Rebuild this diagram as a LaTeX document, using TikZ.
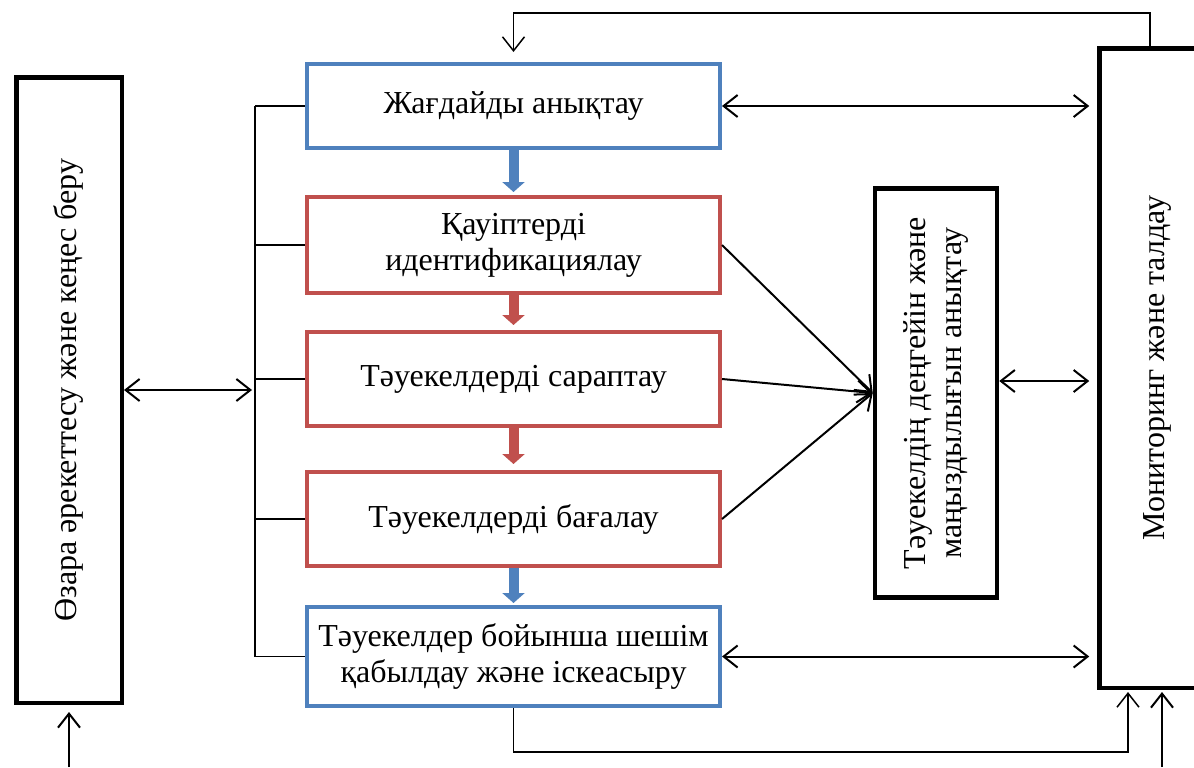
\documentclass[tikz,border=0pt]{standalone}
\usepackage{fontspec}
\setmainfont{Liberation Serif}
\usepackage{graphicx}
\usetikzlibrary{arrows.meta}
\definecolor{boxblue}{RGB}{79,129,189}
\definecolor{boxred}{RGB}{192,80,77}

\begin{document}
\begin{tikzpicture}[x=0.5pt,y=0.5pt,yscale=-1,xscale=1,
    every node/.style={font=\fontsize{16}{18}\selectfont, inner sep=0pt, align=center},
    blackbox/.style={draw, line width=2.25pt},
    bluebox/.style={draw=boxblue, line width=2pt, minimum width=206.5pt},
    redbox/.style={draw=boxred, line width=2pt, minimum width=206.5pt},
    conn/.style={line width=1pt, -{Straight Barb[length=7pt,width=11pt]}},
    dconn/.style={line width=1pt, {Straight Barb[length=7pt,width=11pt]}-{Straight Barb[length=7pt,width=11pt]}},
    bracketline/.style={line width=0.75pt},
    blockarrow/.style={line width=5pt, -{Triangle[length=5pt,width=11pt]}}]
    \useasboundingbox (0,0) rectangle (1194,767);
    \clip (0,0) rectangle (1194,767);

    %Shape: Rectangle [id:ozara]
    \node[blackbox, minimum width=52.75pt, minimum height=312.75pt] (ozara) at (69,390) {\rotatebox{90}{Өзара әрекеттесу және кеңес беру}};
    %Shape: Rectangle [id:zhag]
    \node[bluebox, minimum height=42pt] (zhag) at (513.5,106) {Жағдайды анықтау};
    %Shape: Rectangle [id:kauip]
    \node[redbox, minimum height=48pt] (kauip) at (513.5,245) {Қауіптерді\\идентификациялау};
    %Shape: Rectangle [id:sarap]
    \node[redbox, minimum height=47pt] (sarap) at (513.5,379) {Тәуекелдерді сараптау};
    %Shape: Rectangle [id:bagalau]
    \node[redbox, minimum height=47pt] (bagalau) at (513.5,519) {Тәуекелдерді бағалау};
    %Shape: Rectangle [id:shesim]
    \node[bluebox, minimum height=49.5pt] (shesim) at (513.5,656.5) {Тәуекелдер бойынша шешім\\қабылдау және іскеасыру};
    %Shape: Rectangle [id:level]
    \node[blackbox, minimum width=61pt, minimum height=204.5pt] (level) at (936,393) {\rotatebox{90}{\begin{tabular}{@{}c@{}}Тәуекелдің деңгейін және\\маңыздылығын анықтау\end{tabular}}};
    %Shape: Rectangle [id:mon]
    \node[blackbox, minimum width=57.5pt, minimum height=319.75pt] (mon) at (1157,368) {\rotatebox{90}{Мониторинг және талдау}};

    % Free ends
    \coordinate (brk) at (255,390);
    \coordinate (topR) at (1150,13);
    \coordinate (botR) at (1128,752);
    \coordinate (inL) at (69,767);
    \coordinate (inR) at (1162,767);

    % Block arrows down the middle column
    \draw[blockarrow, boxblue, shorten >=1.5pt] (zhag.south) -- (kauip.north);
    \draw[blockarrow, boxred, shorten >=2.5pt] (kauip.south) -- (sarap.north);
    \draw[blockarrow, boxred, shorten >=3pt] (sarap.south) -- (bagalau.north);
    \draw[blockarrow, boxblue, shorten >=1pt] (bagalau.south) -- (shesim.north);

    % Bracket on the left
    \draw[bracketline] (brk |- zhag.west) -- (brk |- shesim.west);
    \draw[bracketline] (brk |- zhag.west) -- (zhag.west);
    \draw[bracketline] (brk |- kauip.west) -- (kauip.west);
    \draw[bracketline] (brk |- sarap.west) -- (sarap.west);
    \draw[bracketline] (brk |- bagalau.west) -- (bagalau.west);
    \draw[bracketline] (brk |- shesim.west) -- (shesim.west);
    \draw[dconn, shorten >=1.5pt] (ozara.east) -- (brk);

    % Into the level box
    \draw[conn] (kauip.east) -- (level.west);
    \draw[conn] (sarap.east) -- (level.west);
    \draw[conn] (bagalau.east) -- (level.west);

    % Towards monitoring
    \draw[dconn, shorten >=4pt] (zhag.east) -- (zhag.east -| mon.west);
    \draw[dconn, shorten >=4pt] ([yshift=-6pt]level.east) -- ([yshift=-6pt]level.east -| mon.west);
    \draw[dconn, shorten >=4pt] (shesim.east) -- (shesim.east -| mon.west);

    % Feedback loops
    \draw[conn, line width=0.75pt, shorten >=5pt] (topR |- mon.north) -- (topR) -| (zhag.north);
    \draw[conn, line width=0.75pt, shorten >=1pt] (shesim.south) |- (botR) -- (botR |- mon.south);
    \draw[conn, shorten >=3.5pt] (inL) -- (ozara.south);
    \draw[conn, shorten >=1pt] (inR) -- (inR |- mon.south);

\end{tikzpicture}
\end{document}
